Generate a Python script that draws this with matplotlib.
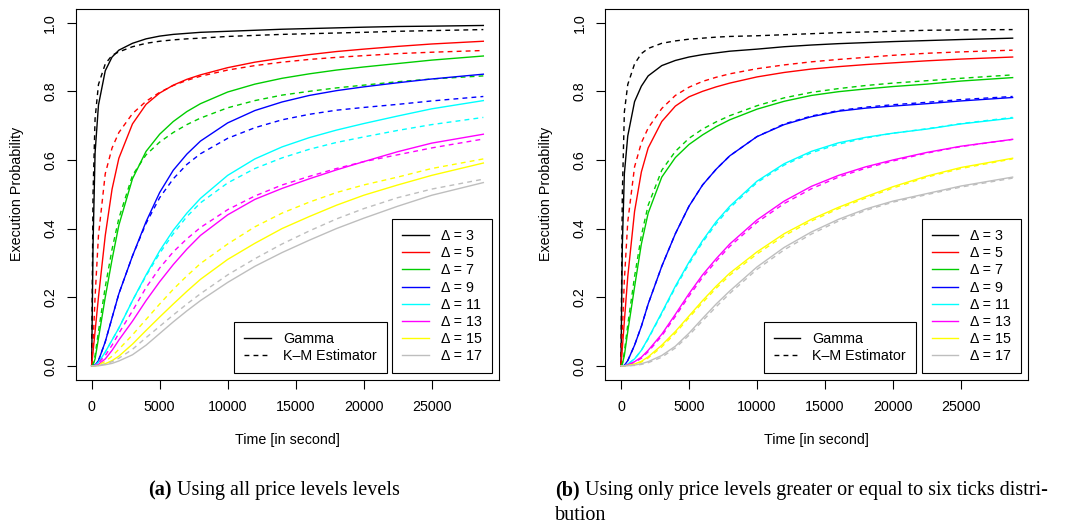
import matplotlib
matplotlib.use("Agg")
import matplotlib.pyplot as plt
from matplotlib.lines import Line2D

plt.rcParams['font.family'] = ['Liberation Sans', 'DejaVu Sans']

# time grid (seconds) at which the curves were sampled
time_s = [0, 100, 250, 500, 1000, 1500, 2000, 3000, 4000, 5000, 6000, 7000,
          8000, 10000, 12000, 14000, 16000, 18000, 20000, 22500, 25000, 28800]

deltas = [3, 5, 7, 9, 11, 13, 15, 17]
colors = ['#000000', '#FF0000', '#00CD00', '#0000FF',
          '#00FFFF', '#FF00FF', '#FFFF00', '#BEBEBE']

# (a) all price levels: fitted gamma CDF and Kaplan-Meier estimate
gamma_all = [
    [0, 0.35, 0.62, 0.76, 0.86, 0.90, 0.92, 0.94, 0.953, 0.961, 0.966, 0.969, 0.972, 0.975, 0.978, 0.981, 0.983, 0.985, 0.987, 0.989, 0.990, 0.992],
    [0, 0.04, 0.10, 0.20, 0.38, 0.515, 0.605, 0.705, 0.762, 0.795, 0.818, 0.835, 0.848, 0.869, 0.885, 0.897, 0.907, 0.916, 0.923, 0.931, 0.938, 0.946],
    [0, 0.002, 0.02, 0.08, 0.2, 0.31, 0.41, 0.545, 0.625, 0.675, 0.712, 0.741, 0.764, 0.798, 0.821, 0.838, 0.851, 0.862, 0.871, 0.881, 0.891, 0.903],
    [0, 0, 0.002, 0.015, 0.07, 0.14, 0.21, 0.32, 0.42, 0.505, 0.57, 0.617, 0.655, 0.708, 0.744, 0.769, 0.788, 0.802, 0.813, 0.825, 0.836, 0.85],
    [0, 0, 0.001, 0.01, 0.04, 0.075, 0.11, 0.19, 0.265, 0.335, 0.395, 0.445, 0.488, 0.555, 0.603, 0.638, 0.665, 0.687, 0.706, 0.728, 0.749, 0.773],
    [0, 0, 0, 0.004, 0.02, 0.045, 0.075, 0.13, 0.19, 0.245, 0.295, 0.34, 0.38, 0.44, 0.485, 0.517, 0.545, 0.571, 0.595, 0.624, 0.649, 0.675],
    [0, 0, 0, 0.001, 0.006, 0.015, 0.028, 0.063, 0.103, 0.142, 0.18, 0.217, 0.252, 0.31, 0.357, 0.40, 0.435, 0.468, 0.497, 0.527, 0.555, 0.591],
    [0, 0, 0, 0, 0.003, 0.007, 0.014, 0.032, 0.06, 0.094, 0.128, 0.16, 0.19, 0.243, 0.29, 0.33, 0.366, 0.40, 0.43, 0.465, 0.497, 0.534],
]
km_all = [
    [0, 0.5, 0.72, 0.82, 0.88, 0.905, 0.915, 0.93, 0.94, 0.946, 0.95, 0.953, 0.955, 0.96, 0.963, 0.966, 0.968, 0.970, 0.972, 0.975, 0.977, 0.980],
    [0, 0.06, 0.2, 0.38, 0.56, 0.635, 0.68, 0.735, 0.771, 0.797, 0.817, 0.832, 0.844, 0.862, 0.875, 0.885, 0.893, 0.899, 0.904, 0.910, 0.914, 0.919],
    [0, 0.003, 0.03, 0.1, 0.23, 0.34, 0.43, 0.555, 0.615, 0.652, 0.68, 0.703, 0.722, 0.752, 0.773, 0.789, 0.80, 0.81, 0.818, 0.828, 0.836, 0.845],
    [0, 0, 0.002, 0.015, 0.07, 0.14, 0.21, 0.32, 0.415, 0.49, 0.545, 0.587, 0.618, 0.663, 0.694, 0.717, 0.733, 0.745, 0.753, 0.762, 0.772, 0.785],
    [0, 0, 0.001, 0.01, 0.04, 0.075, 0.11, 0.19, 0.262, 0.328, 0.385, 0.435, 0.475, 0.533, 0.575, 0.606, 0.631, 0.651, 0.667, 0.686, 0.703, 0.724],
    [0, 0, 0.001, 0.008, 0.03, 0.06, 0.095, 0.16, 0.228, 0.285, 0.332, 0.37, 0.403, 0.455, 0.495, 0.527, 0.552, 0.575, 0.595, 0.615, 0.635, 0.661],
    [0, 0, 0, 0.003, 0.013, 0.028, 0.048, 0.09, 0.135, 0.18, 0.223, 0.262, 0.298, 0.355, 0.405, 0.445, 0.477, 0.505, 0.527, 0.55, 0.575, 0.603],
    [0, 0, 0, 0.001, 0.005, 0.012, 0.022, 0.048, 0.082, 0.115, 0.148, 0.18, 0.21, 0.265, 0.312, 0.355, 0.393, 0.428, 0.458, 0.49, 0.515, 0.544],
]

# (b) only price levels >= six ticks
gamma_six = [
    [0, 0.35, 0.56, 0.67, 0.77, 0.815, 0.845, 0.875, 0.89, 0.90, 0.907, 0.912, 0.917, 0.923, 0.93, 0.935, 0.939, 0.942, 0.945, 0.948, 0.951, 0.955],
    [0, 0.05, 0.13, 0.26, 0.45, 0.565, 0.635, 0.712, 0.757, 0.784, 0.80, 0.813, 0.824, 0.842, 0.855, 0.865, 0.872, 0.878, 0.883, 0.889, 0.894, 0.90],
    [0, 0.005, 0.03, 0.1, 0.23, 0.355, 0.445, 0.55, 0.607, 0.645, 0.673, 0.697, 0.717, 0.748, 0.771, 0.788, 0.799, 0.807, 0.814, 0.821, 0.83, 0.84],
    [0, 0, 0.001, 0.015, 0.06, 0.115, 0.18, 0.29, 0.385, 0.465, 0.527, 0.573, 0.612, 0.668, 0.703, 0.726, 0.742, 0.751, 0.757, 0.764, 0.772, 0.782],
    [0, 0, 0, 0.005, 0.02, 0.045, 0.08, 0.155, 0.232, 0.302, 0.365, 0.42, 0.465, 0.538, 0.589, 0.625, 0.65, 0.666, 0.678, 0.69, 0.705, 0.722],
    [0, 0, 0, 0.003, 0.012, 0.025, 0.045, 0.092, 0.15, 0.21, 0.265, 0.312, 0.355, 0.425, 0.48, 0.523, 0.555, 0.58, 0.60, 0.622, 0.64, 0.66],
    [0, 0, 0, 0.001, 0.005, 0.013, 0.026, 0.06, 0.10, 0.145, 0.19, 0.232, 0.27, 0.332, 0.385, 0.427, 0.462, 0.493, 0.522, 0.553, 0.578, 0.605],
    [0, 0, 0, 0, 0.002, 0.006, 0.012, 0.03, 0.057, 0.095, 0.138, 0.18, 0.218, 0.288, 0.345, 0.39, 0.427, 0.457, 0.48, 0.502, 0.524, 0.55],
]
km_six = [
    [0, 0.5, 0.74, 0.82, 0.88, 0.91, 0.925, 0.94, 0.947, 0.952, 0.955, 0.958, 0.96, 0.962, 0.965, 0.968, 0.971, 0.973, 0.975, 0.978, 0.979, 0.98],
    [0, 0.1, 0.25, 0.42, 0.58, 0.65, 0.693, 0.75, 0.788, 0.812, 0.829, 0.841, 0.851, 0.866, 0.877, 0.886, 0.893, 0.899, 0.905, 0.911, 0.915, 0.92],
    [0, 0.006, 0.04, 0.12, 0.26, 0.38, 0.468, 0.57, 0.625, 0.663, 0.69, 0.711, 0.729, 0.758, 0.781, 0.797, 0.808, 0.817, 0.824, 0.831, 0.838, 0.848],
    [0, 0, 0.001, 0.015, 0.06, 0.115, 0.18, 0.29, 0.385, 0.465, 0.527, 0.573, 0.612, 0.668, 0.705, 0.728, 0.744, 0.754, 0.761, 0.768, 0.776, 0.785],
    [0, 0, 0, 0.005, 0.02, 0.045, 0.078, 0.152, 0.228, 0.297, 0.36, 0.414, 0.46, 0.534, 0.585, 0.621, 0.646, 0.664, 0.678, 0.691, 0.706, 0.724],
    [0, 0, 0, 0.002, 0.01, 0.022, 0.041, 0.087, 0.144, 0.203, 0.258, 0.305, 0.348, 0.418, 0.473, 0.516, 0.55, 0.576, 0.597, 0.62, 0.639, 0.66],
    [0, 0, 0, 0.001, 0.004, 0.011, 0.023, 0.055, 0.095, 0.14, 0.184, 0.226, 0.264, 0.326, 0.379, 0.422, 0.458, 0.489, 0.518, 0.55, 0.575, 0.603],
    [0, 0, 0, 0, 0.001, 0.004, 0.009, 0.025, 0.052, 0.089, 0.131, 0.172, 0.211, 0.281, 0.338, 0.384, 0.422, 0.453, 0.477, 0.499, 0.521, 0.547],
]

xticks = [0, 5000, 10000, 15000, 20000, 25000]
yticks = [0.0, 0.2, 0.4, 0.6, 0.8, 1.0]

FS = 10.3
LW = 1.0
DASH = (0, (3.5, 3.0))

fig = plt.figure(figsize=(10.65, 5.27), dpi=100)
W, H = 1065.0, 527.0


def px_axes(x0, x1, ytop, ybot):
    return fig.add_axes([x0 / W, 1 - ybot / H, (x1 - x0) / W, (ybot - ytop) / H])


def draw_panel(ax, gam, km):
    for i in range(len(deltas)):
        ax.plot(time_s, gam[i], color=colors[i], lw=LW)
        ax.plot(time_s, km[i], color=colors[i], lw=LW, linestyle=DASH)
    xr = max(time_s) * 0.04
    ax.set_xlim(-xr, max(time_s) + xr)
    ax.set_ylim(-0.04, 1.04)
    ax.set_xticks(xticks)
    ax.set_yticks(yticks)
    ax.set_yticklabels([f"{v:.1f}" for v in yticks], rotation=90, va='center')
    ax.tick_params(direction='out', length=6.5, width=0.8, labelsize=FS, pad=7)
    ax.tick_params(axis='x', pad=8)
    for s in ax.spines.values():
        s.set_linewidth(0.8)
    ax.set_xlabel("Time [in second]", fontsize=FS, va='center')
    ax.set_ylabel("Execution Probability", fontsize=FS, va='center')
    ax.xaxis.set_label_coords(0.5, -(440 - 379.5) / 370.5)
    ax.yaxis.set_label_coords((17 - 76) / 423.0, 0.5)

    legend_style = dict(loc='lower right', borderaxespad=0, fontsize=FS,
                        frameon=True, fancybox=False, edgecolor='black',
                        framealpha=1, handlelength=1.85, handletextpad=0.85,
                        labelspacing=0.22, borderpad=0.7)

    style_handles = [Line2D([], [], color='black', lw=LW),
                     Line2D([], [], color='black', lw=LW, linestyle=DASH)]
    leg1 = ax.legend(style_handles, ["Gamma", "K\u2013M Estimator"],
                     bbox_to_anchor=(0.7345, 0.018), **legend_style)
    leg1.get_frame().set_linewidth(0.8)
    ax.add_artist(leg1)

    delta_handles = [Line2D([], [], color=c, lw=LW) for c in colors]
    leg2 = ax.legend(delta_handles, [f"\u0394 = {d}" for d in deltas],
                     bbox_to_anchor=(0.9835, 0.017), **legend_style)
    leg2.get_frame().set_linewidth(0.8)


ax_a = px_axes(76, 499, 9, 379.5)
draw_panel(ax_a, gamma_all, km_all)
ax_b = px_axes(605.3, 1028.3, 9, 379.5)
draw_panel(ax_b, gamma_six, km_six)

# subfigure captions: bold tag followed by plain text
renderer = fig.canvas.get_renderer()
CAP = dict(family=['Liberation Serif', 'DejaVu Serif'], fontsize=14.5, va='center')


def caption(x_px, y_px, parts):
    x = x_px
    for txt, weight in parts:
        t = fig.text(x / W, 1 - y_px / H, txt, fontweight=weight, **CAP)
        x = t.get_window_extent(renderer=renderer).x1


caption(148, 490, [("(a)", 'bold'), (" Using all price levels levels", 'normal')])
caption(555, 490, [("(b)", 'bold'),
                   (" Using only price levels greater or equal to six ticks distri-", 'normal')])
caption(555, 516, [("bution", 'normal')])

fig.savefig("out.png", dpi=100)
